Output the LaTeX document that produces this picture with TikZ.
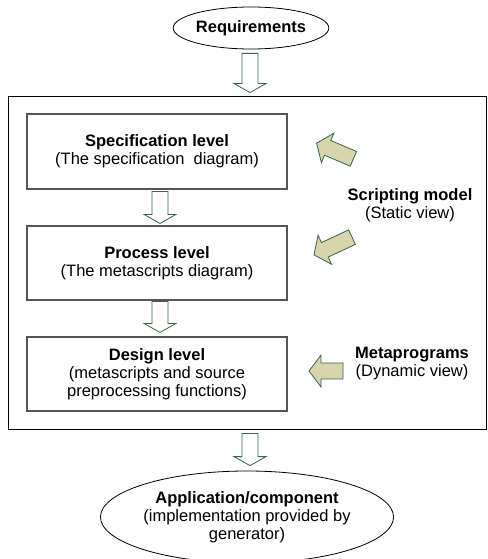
\documentclass[tikz,border=0pt]{standalone}
\usepackage{fontspec}
\setmainfont{Liberation Sans}
\usetikzlibrary{shapes.geometric,calc}
\definecolor{arrowline}{HTML}{3A6447}
\definecolor{olivefill}{HTML}{D6D5AE}
\definecolor{boxline}{HTML}{555555}

% olive block arrow: centre, direction (degrees), length
\newcommand\olivearrow[3]{%
  \begin{scope}[shift={#1}, rotate=#2]
    \draw[olive arrow] (-#3/2,-8) -- (#3/2-12,-8) -- (#3/2-12,-16) -- (#3/2,0)
      -- (#3/2-12,16) -- (#3/2-12,8) -- (-#3/2,8) -- cycle;
  \end{scope}}

\begin{document}
\begin{tikzpicture}[x=1pt, y=-1pt,
  txt/.style={font=\fontsize{16.5}{18}\selectfont, align=center},
  levelbox/.style={txt, draw=boxline, line width=1.1pt, minimum width=260pt, inner sep=0pt},
  oval/.style={txt, draw=black, ellipse, line width=0.8pt, inner sep=0pt},
  olive arrow/.style={draw=arrowline, fill=olivefill, line width=0.8pt, line join=miter},
  hollow/.style={draw=arrowline, fill=white, line width=0.8pt,
    to path={let \p1=(\tikztostart), \p2=(\tikztotarget) in
      (\x1-8pt,\y1) -- (\x1-8pt,\y2+9pt) -- (\x1-16pt,\y2+9pt) -- (\x1,\y2)
      -- (\x1+16pt,\y2+9pt) -- (\x1+8pt,\y2+9pt) -- (\x1+8pt,\y1) -- cycle}}
]
\useasboundingbox (0,0) rectangle (487,559);

% outer frame
\node[draw=black, line width=0.9pt, minimum width=478pt, minimum height=333pt, inner sep=0pt]
  (frame) at (247,262.5) {};

% start and result
\node[oval, minimum width=151pt, minimum height=42pt] (req) at (251,28) {\textbf{Requirements}};
\node[oval, minimum width=290pt, minimum height=92pt] (app) at (247,517)
  {\textbf{Application/component}\\(implementation provided by\\generator)};

% the three levels
\node[levelbox, minimum height=75pt] (spec) at (157,151.5)
  {\textbf{Specification level}\\(The specification\ \ diagram)};
\node[levelbox, minimum height=74pt] (proc) at (157,263)
  {\textbf{Process level}\\(The metascripts diagram)};
\node[levelbox, minimum height=74pt] (design) at (157,374)
  {\textbf{Design level}\\(metascripts and source\\preprocessing functions)};

% side labels
\node[txt] (script) at (410,205) {\textbf{Scripting model}\\(Static view)};
\node[txt] (meta) at (412,364) {\textbf{Metaprograms}\\(Dynamic view)};

% hollow flow arrows
\draw[hollow] ($(req.south)+(-1,4)$) to ($(frame.north)+(0,-3)$);
\draw[hollow] ($(spec.south)+(3,2)$) to ($(proc.north)+(3,-2)$);
\draw[hollow] ($(proc.south)+(3,1)$) to ($(design.north)+(3,-4)$);
\draw[hollow] ($(frame.south)+(3,4)$) to ($(app.north)+(3,-5)$);

% olive arrows from the models
\olivearrow{(335,151)}{157}{40}
\olivearrow{(333,246)}{205}{42}
\olivearrow{(326,371)}{180}{34}
\end{tikzpicture}
\end{document}
